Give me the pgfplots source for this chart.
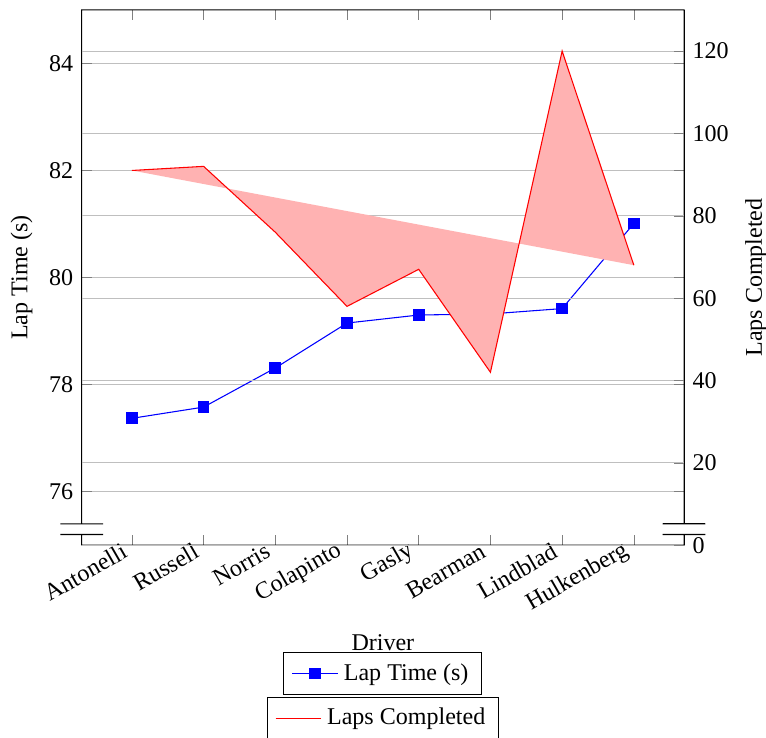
\documentclass[border=0pt]{standalone}
\usepackage{fontspec}
\setmainfont{Liberation Serif}
\usepackage{pgfplots}
\pgfplotsset{compat=1.18}
\begin{document}
\fontsize{9}{11}\selectfont
\begin{tikzpicture}
\begin{axis}[
  name=ax,
  scale only axis,
  width=225.6pt, height=200.5pt,
  xmin=-0.7, xmax=7.7,
  ymin=75, ymax=85,
  xtick={0,...,7},
  xticklabels={Antonelli,Russell,Norris,Colapinto,Gasly,Bearman,Lindblad,Hulkenberg},
  xticklabel style={rotate=30, anchor=east},
  ytick={76,78,80,82,84},
  major tick length=3.75pt,
  ymajorgrids,
  axis y discontinuity=parallel,
  xlabel={Driver},
  ylabel={Lap Time (s)},
  /pgf/number format/assume math mode=true,
  legend style={at={(0.5,-0.2)}, anchor=north},
]
\addplot[blue, mark=square*] coordinates {
 (0,77.37) (1,77.58) (2,78.31) (3,79.15) (4,79.30) (5,79.32) (6,79.42) (7,81.01)};
\addlegendentry{Lap Time (s)}
\end{axis}
\begin{axis}[
  scale only axis,
  width=225.6pt, height=200.5pt,
  xmin=-0.7, xmax=7.7,
  ymin=0, ymax=130,
  axis x line=none,
  axis y line*=right,
  ytick={0,20,...,120},
  major tick length=3.75pt,
  ymajorgrids,
  axis y discontinuity=parallel,
  ylabel={Laps Completed},
  /pgf/number format/assume math mode=true,
  legend style={at={(0.5,-0.283)}, anchor=north},
]
\addplot[red, fill=red!30] coordinates {
 (0,91) (1,92) (2,76) (3,58) (4,67) (5,42) (6,120) (7,68)};
\addlegendentry{Laps Completed}
\end{axis}
\pgfresetboundingbox
\path[use as bounding box] ([xshift=-30.6pt,yshift=3.7pt]ax.north west) rectangle ([xshift=30.7pt,yshift=-71.9pt]ax.south east);
\end{tikzpicture}
\end{document}
